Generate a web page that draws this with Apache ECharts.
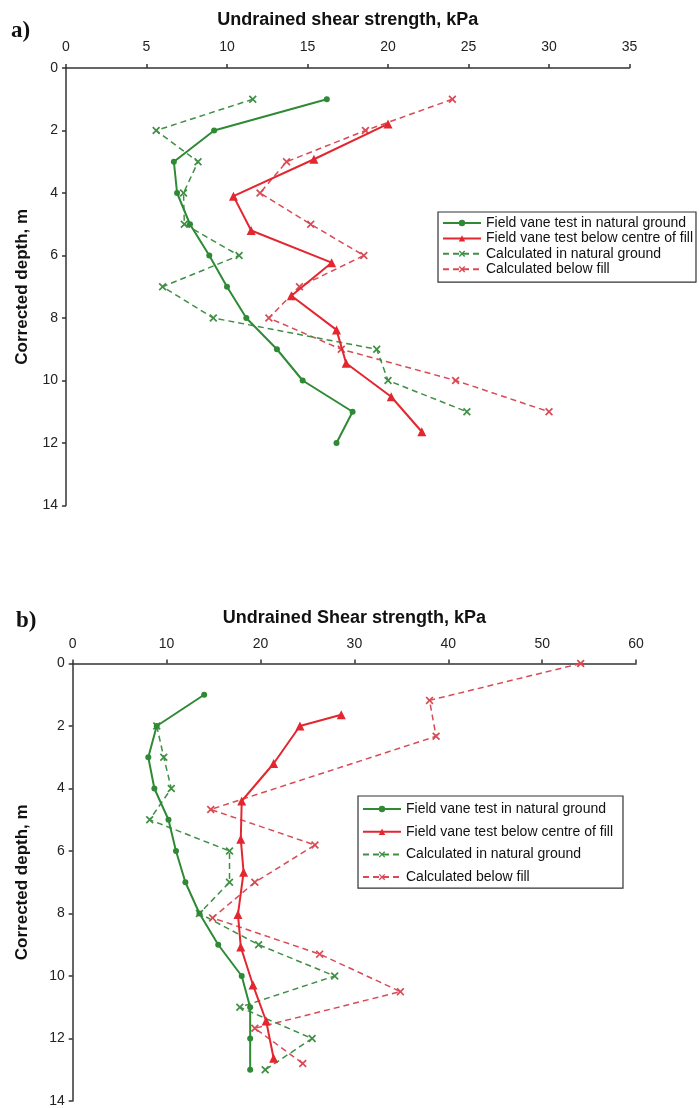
<!DOCTYPE html>
<html>
<head>
<meta charset="utf-8">
<script src="https://cdn.jsdelivr.net/npm/echarts@6/dist/echarts.min.js"></script>
<style>
  html, body { margin: 0; padding: 0; background: #fff; }
  #main { width: 700px; height: 1108px; }
</style>
</head>
<body>
<div id="main"></div>
<script>
// ---- data (strength kPa, depth m) ----
// chart a)
var aNatDepth = [1, 2, 3, 4, 5, 6, 7, 8, 9, 10, 11, 12];
var aNatSu = [16.2, 9.2, 6.7, 6.9, 7.7, 8.9, 10.0, 11.2, 13.1, 14.7, 17.8, 16.8];
var aFillDepth = [1.79, 2.92, 4.1, 5.2, 6.23, 7.29, 8.38, 9.45, 10.52, 11.64];
var aFillSu = [20.0, 15.4, 10.4, 11.5, 16.5, 14.0, 16.8, 17.4, 20.2, 22.1];
var aCalcNatDepth = [1, 2, 3, 4, 5, 6, 7, 8, 9, 10, 11];
var aCalcNatSu = [11.6, 5.6, 8.2, 7.3, 7.35, 10.75, 6.0, 9.15, 19.3, 20.0, 24.9];
var aCalcFillDepth = [1, 2, 3, 4, 5, 6, 7, 8, 9, 10, 11];
var aCalcFillSu = [24.0, 18.6, 13.7, 12.05, 15.2, 18.5, 14.5, 12.6, 17.1, 24.2, 30.0];

// chart b)
var bNatDepth = [1, 2, 3, 4, 5, 6, 7, 8, 9, 10, 11, 12, 13];
var bNatSu = [14.0, 8.95, 8.05, 8.7, 10.2, 11.0, 12.0, 13.5, 15.5, 18.0, 18.9, 18.9, 18.9];
var bFillDepth = [1.64, 2.0, 3.2, 4.4, 5.62, 6.68, 8.03, 9.07, 10.29, 11.44, 12.63];
var bFillSu = [28.6, 24.2, 21.4, 18.0, 17.9, 18.2, 17.6, 17.9, 19.2, 20.6, 21.4];
var bCalcNatDepth = [2, 3, 4, 5, 6, 7, 8, 9, 10, 11, 12, 13];
var bCalcNatSu = [8.95, 9.7, 10.5, 8.2, 16.7, 16.7, 13.5, 19.8, 27.9, 17.8, 25.5, 20.5];
var bCalcFillDepth = [0, 1.18, 2.33, 4.67, 5.81, 7.0, 8.14, 9.3, 10.5, 11.67, 12.8];
var bCalcFillSu = [54.1, 38.0, 38.7, 14.7, 25.8, 19.4, 14.9, 26.3, 34.9, 19.4, 24.5];

var depthTicks = [0, 2, 4, 6, 8, 10, 12, 14];

var names = ['Field vane test in natural ground', 'Field vane test below centre of fill',
             'Calculated in natural ground', 'Calculated below fill'];

var FONT = 'Liberation Sans, Arial, sans-serif';
var GREEN = '#2f8a35', RED = '#e3262f', GREEN_D = '#3f8f45', RED_D = '#d84a54';
var crossPath = 'path://M0,1.5L1.5,0L5,3.5L8.5,0L10,1.5L6.5,5L10,8.5L8.5,10L5,6.5L1.5,10L0,8.5L3.5,5Z';

function zip(su, depth) {
    return su.map(function (v, i) { return [v, depth[i]]; });
}

function makeSeries(idx, sets) {
    var styles = [
        {color: GREEN, symbol: 'circle', size: 6, type: 'solid', width: 2},
        {color: RED, symbol: 'triangle', size: 9, type: 'solid', width: 2},
        {color: GREEN_D, symbol: crossPath, size: 8, type: [6, 4], width: 1.5},
        {color: RED_D, symbol: crossPath, size: 8, type: [6, 4], width: 1.5}
    ];
    return sets.map(function (d, i) {
        var s = styles[i];
        return {
            name: names[i],
            type: 'line',
            xAxisIndex: idx,
            yAxisIndex: idx,
            data: d,
            symbol: s.symbol,
            symbolSize: s.size,
            showAllSymbol: true,
            animation: false,
            itemStyle: {color: s.color},
            lineStyle: {color: s.color, width: s.width, type: s.type},
            z: 10 - i
        };
    });
}

function xAxisCfg(idx, max, interval, name, nameGap, margin) {
    return {
        gridIndex: idx,
        type: 'value',
        position: 'top',
        min: 0, max: max, interval: interval,
        name: name,
        nameLocation: 'middle',
        nameGap: nameGap,
        nameTextStyle: {fontFamily: FONT, fontSize: 18, fontWeight: 'bold', color: '#111'},
        axisLine: {show: true, lineStyle: {color: '#333', width: 1.5}},
        axisTick: {show: true, inside: false, length: 4, lineStyle: {color: '#333', width: 1.5}},
        axisLabel: {fontFamily: FONT, fontSize: 14, color: '#222', margin: margin},
        splitLine: {show: false}
    };
}

function yAxisCfg(idx, nameGap) {
    return {
        gridIndex: idx,
        type: 'value',
        inverse: true,
        min: 0, max: 14, interval: 2,
        name: 'Corrected depth, m',
        nameLocation: 'middle',
        nameRotate: 90,
        nameGap: nameGap,
        nameTextStyle: {fontFamily: FONT, fontSize: 17, fontWeight: 'bold', color: '#111'},
        axisLine: {show: true, lineStyle: {color: '#333', width: 1.5}},
        axisTick: {show: true, length: 4, lineStyle: {color: '#333', width: 1.5}},
        axisLabel: {fontFamily: FONT, fontSize: 14, color: '#222', margin: 8,
            formatter: function (v) { return depthTicks.indexOf(v) >= 0 ? v : ''; }},
        splitLine: {show: false}
    };
}

function legendCfg(left, top, gap, pad) {
    return {
        orient: 'vertical',
        left: left,
        top: top,
        data: names,
        itemWidth: 38,
        itemHeight: 8,
        itemGap: gap,
        padding: pad,
        borderColor: '#333',
        borderWidth: 1.2,
        backgroundColor: '#fff',
        selectedMode: false,
        textStyle: {fontFamily: FONT, fontSize: 14, color: '#111', lineHeight: 14}
    };
}

var myChart = echarts.init(document.getElementById('main'), null, {renderer: 'canvas'});

var option = {
    backgroundColor: '#fff',
    animation: false,
    grid: [
        {left: 66, top: 68, width: 563.5, height: 437.5},
        {left: 72.7, top: 663.5, width: 563.4, height: 439.6}
    ],
    xAxis: [
        xAxisCfg(0, 35, 5, 'Undrained shear strength, kPa', 39, 14),
        xAxisCfg(1, 60, 10, 'Undrained Shear strength, kPa', 36, 12)
    ],
    yAxis: [yAxisCfg(0, 35), yAxisCfg(1, 42)],
    legend: [
        legendCfg(438, 212, 1.4, [4, 3, 6, 4]),
        legendCfg(358, 796, 8.7, [6, 10, 4, 4])
    ],
    graphic: [
        {type: 'text', left: 11, top: 20,
            style: {text: 'a)', font: 'bold 23px "Liberation Serif", "Times New Roman", serif', fill: '#111'}},
        {type: 'text', left: 16, top: 610,
            style: {text: 'b)', font: 'bold 23px "Liberation Serif", "Times New Roman", serif', fill: '#111'}}
    ],
    series: [].concat(
        makeSeries(0, [zip(aNatSu, aNatDepth), zip(aFillSu, aFillDepth),
                       zip(aCalcNatSu, aCalcNatDepth), zip(aCalcFillSu, aCalcFillDepth)]),
        makeSeries(1, [zip(bNatSu, bNatDepth), zip(bFillSu, bFillDepth),
                       zip(bCalcNatSu, bCalcNatDepth), zip(bCalcFillSu, bCalcFillDepth)])
    )
};
myChart.setOption(option);
</script>
</body>
</html>
